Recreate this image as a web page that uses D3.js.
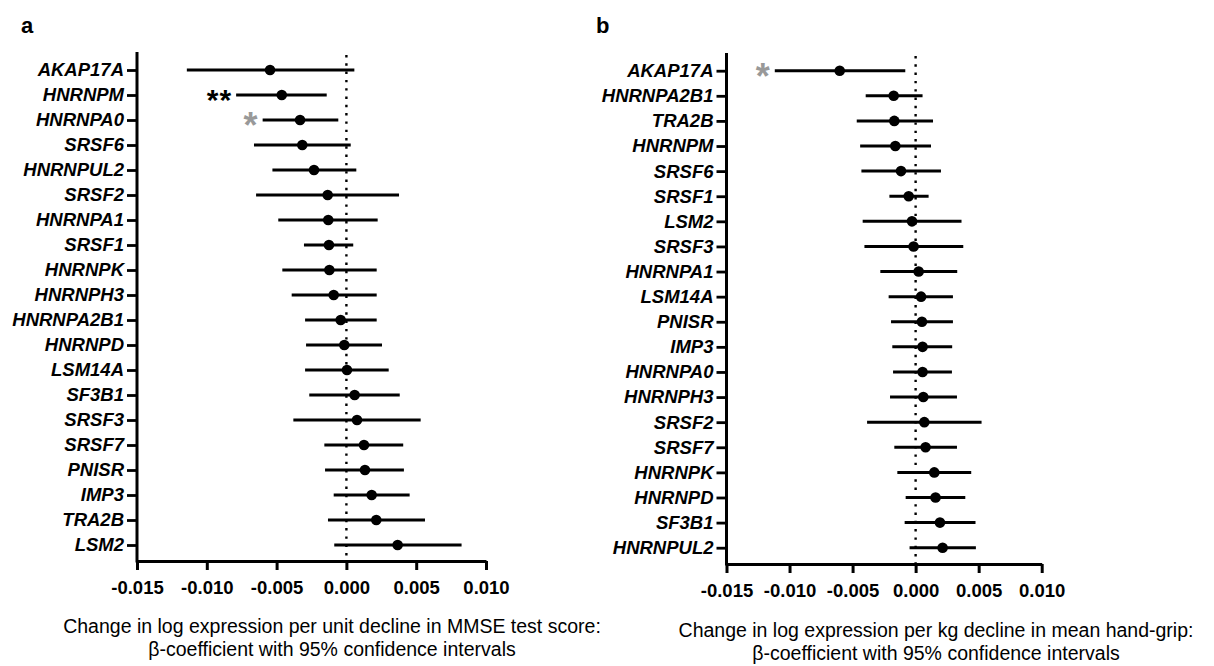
<!DOCTYPE html>
<html>
<head>
<meta charset="utf-8">
<script src="https://cdn.jsdelivr.net/npm/d3@7"></script>
<style>
  html, body { margin: 0; padding: 0; background: #fff; }
  svg { display: block; }
  text { font-family: "Liberation Sans", Arial, Helvetica, sans-serif; }
</style>
</head>
<body>
<svg id="chart" width="1214" height="666"></svg>
<script>
// ---------- Panel a data (MMSE) ----------
const genesA = ["AKAP17A","HNRNPM","HNRNPA0","SRSF6","HNRNPUL2","SRSF2","HNRNPA1","SRSF1","HNRNPK","HNRNPH3","HNRNPA2B1","HNRNPD","LSM14A","SF3B1","SRSF3","SRSF7","PNISR","IMP3","TRA2B","LSM2"];
const betaA  = [-0.00547,-0.00463,-0.00332,-0.00316,-0.00232,-0.00134,-0.00130,-0.00125,-0.00122,-0.00091,-0.00041,-0.00015,0.00004,0.00059,0.00076,0.00126,0.00133,0.00181,0.00214,0.00367];
const lowA   = [-0.01143,-0.00790,-0.00600,-0.00662,-0.00530,-0.00647,-0.00488,-0.00304,-0.00459,-0.00392,-0.00296,-0.00289,-0.00296,-0.00266,-0.00380,-0.00158,-0.00153,-0.00091,-0.00132,-0.00087];
const highA  = [0.00057,-0.00141,-0.00058,0.00031,0.00071,0.00377,0.00224,0.00049,0.00217,0.00217,0.00217,0.00255,0.00303,0.00382,0.00532,0.00407,0.00412,0.00453,0.00563,0.00825];
const sigA   = ["", "**", "*", "", "", "", "", "", "", "", "", "", "", "", "", "", "", "", "", ""];

// ---------- Panel b data (hand-grip) ----------
const genesB = ["AKAP17A","HNRNPA2B1","TRA2B","HNRNPM","SRSF6","SRSF1","LSM2","SRSF3","HNRNPA1","LSM14A","PNISR","IMP3","HNRNPA0","HNRNPH3","SRSF2","SRSF7","HNRNPK","HNRNPD","SF3B1","HNRNPUL2"];
const betaB  = [-0.00602,-0.00174,-0.00169,-0.00161,-0.00116,-0.00055,-0.00029,-0.00016,0.00024,0.00043,0.00050,0.00055,0.00055,0.00061,0.00069,0.00079,0.00148,0.00158,0.00193,0.00214];
const lowB   = [-0.01117,-0.00396,-0.00467,-0.00440,-0.00430,-0.00208,-0.00420,-0.00406,-0.00280,-0.00214,-0.00195,-0.00185,-0.00179,-0.00203,-0.00385,-0.00169,-0.00145,-0.00079,-0.00087,-0.00048];
const highB  = [-0.00082,0.00055,0.00138,0.00122,0.00201,0.00103,0.00364,0.00378,0.00330,0.00296,0.00296,0.00290,0.00288,0.00328,0.00523,0.00328,0.00441,0.00394,0.00475,0.00478];
const sigB   = ["*", "", "", "", "", "", "", "", "", "", "", "", "", "", "", "", "", "", "", ""];

// ---------- shared ----------
const xTicks = [-0.015,-0.010,-0.005,0.000,0.005,0.010];
const xDomain = [-0.015, 0.010];

const svg = d3.select("#chart");

function panel(cfg) {
  const g = svg.append("g");
  const x = d3.scaleLinear().domain(xDomain).range([cfg.x0, cfg.x1]);
  const y = d3.scalePoint().domain(cfg.genes).range([cfg.yTop, cfg.yBot]);

  g.append("line")
    .attr("x1", x(0)).attr("x2", x(0))
    .attr("y1", cfg.axisTop + 3).attr("y2", cfg.axisY)
    .attr("stroke", "#000").attr("stroke-width", 2.4)
    .attr("stroke-dasharray", "2.4 5.9");

  g.selectAll("line.ci").data(cfg.genes).join("line")
    .attr("class", "ci")
    .attr("x1", (d,i) => x(cfg.low[i])).attr("x2", (d,i) => x(cfg.high[i]))
    .attr("y1", d => y(d)).attr("y2", d => y(d))
    .attr("stroke", "#000").attr("stroke-width", 3);

  g.selectAll("circle").data(cfg.genes).join("circle")
    .attr("cx", (d,i) => x(cfg.beta[i])).attr("cy", d => y(d))
    .attr("r", 5.3).attr("fill", "#000");

  g.selectAll("text.sig").data(cfg.genes).join("text")
    .attr("class", "sig")
    .attr("x", (d,i) => x(cfg.low[i]) - 4)
    .attr("y", (d,i) => y(d) + (cfg.sig[i] === "**" ? 15 : 18))
    .attr("text-anchor", "end")
    .attr("font-size", (d,i) => cfg.sig[i] === "**" ? 30 : 36)
    .attr("font-weight", "bold")
    .attr("fill", (d,i) => cfg.sig[i] === "**" ? "#000" : "#999")
    .attr("letter-spacing", 1)
    .text((d,i) => cfg.sig[i]);

  const ya = g.append("g").attr("transform", `translate(${cfg.x0},0)`)
    .call(d3.axisLeft(y).tickSize(10).tickPadding(3));
  ya.select(".domain").remove();
  ya.selectAll(".tick line").attr("stroke-width", 2.8);
  ya.selectAll(".tick text")
    .attr("font-size", 18.5).attr("font-weight", "bold").attr("font-style", "italic")
    .attr("fill", "#000").attr("font-family", "'Liberation Sans', Arial, sans-serif");
  g.append("line")
    .attr("x1", cfg.x0).attr("x2", cfg.x0)
    .attr("y1", cfg.axisTop).attr("y2", cfg.axisY + 1.4)
    .attr("stroke", "#000").attr("stroke-width", 3);

  const xa = g.append("g").attr("transform", `translate(0,${cfg.axisY})`)
    .call(d3.axisBottom(x).tickValues(xTicks).tickSize(9).tickPadding(11)
      .tickFormat(d => d.toFixed(3)).tickSizeOuter(0));
  xa.select(".domain").attr("stroke-width", 3);
  xa.selectAll(".tick line").attr("stroke-width", 3);
  xa.selectAll(".tick text")
    .attr("font-size", 18.5).attr("font-weight", "bold")
    .attr("fill", "#000").attr("font-family", "'Liberation Sans', Arial, sans-serif");

  const t = g.append("text")
    .attr("text-anchor", "middle")
    .attr("font-size", 19.5).attr("fill", "#000");
  cfg.title.forEach((line, i) => {
    t.append("tspan").attr("x", cfg.titleX).attr("y", cfg.titleY + i * 23).text(line);
  });

  g.append("text").attr("x", cfg.letterX).attr("y", 33)
    .attr("font-size", 22).attr("font-weight", "bold").text(cfg.letter);
}

panel({
  genes: genesA, beta: betaA, low: lowA, high: highA, sig: sigA,
  x0: 137, x1: 486, yTop: 70, yBot: 545, axisTop: 52, axisY: 561,
  title: ["Change in log expression per unit decline in MMSE test score:", "\u03B2-coefficient with 95% confidence intervals"],
  titleX: 332, titleY: 633, letter: "a", letterX: 21
});

panel({
  genes: genesB, beta: betaB, low: lowB, high: highB, sig: sigB,
  x0: 726.5, x1: 1041.7, yTop: 70.7, yBot: 547.7, axisTop: 53, axisY: 564,
  title: ["Change in log expression per kg decline in mean hand-grip:", "\u03B2-coefficient with 95% confidence intervals"],
  titleX: 936, titleY: 637, letter: "b", letterX: 596
});
</script>
</body>
</html>
